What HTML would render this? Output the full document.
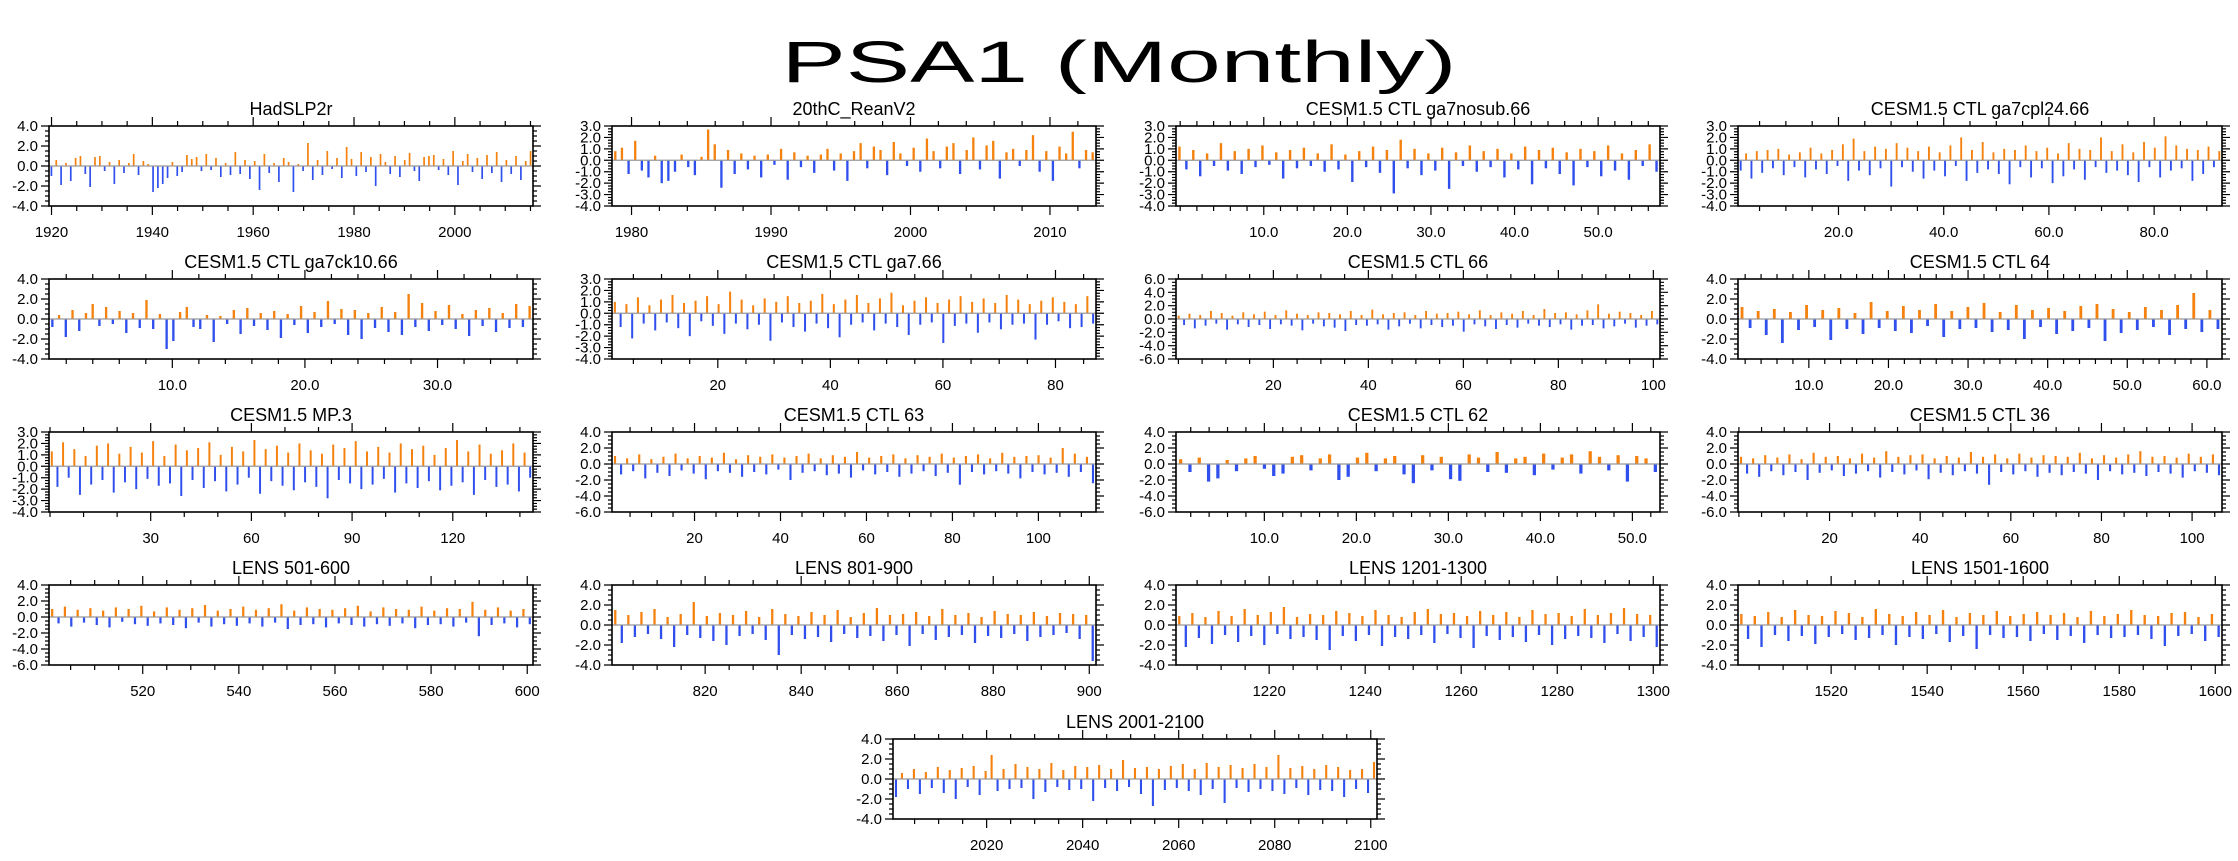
<!DOCTYPE html>
<html><head><meta charset="utf-8">
<style>
html,body{margin:0;padding:0;background:#fff;}
body{width:2238px;height:856px;overflow:hidden;font-family:"Liberation Sans",sans-serif;}
svg text{font-family:"Liberation Sans",sans-serif;fill:#000;}
</style></head>
<body>
<svg id="chart" width="2238" height="856" viewBox="0 0 2238 856" xmlns="http://www.w3.org/2000/svg">
<text x="1119" y="82" font-size="58" text-anchor="middle" textLength="675" lengthAdjust="spacingAndGlyphs">PSA1 (Monthly)</text>
</svg>
<script>
const hadslpValues=[-1.0,0.6,-1.9,0.3,-1.5,0.8,1.0,-0.8,-2.1,0.9,1.0,-0.5,0.4,-1.8,0.6,-0.7,0.3,1.2,-0.9,0.5,0.2,-2.6,-2.2,-1.8,-1.2,0.4,-1.0,-0.6,1.1,0.7,0.9,-0.5,1.2,-0.4,0.8,-1.1,0.3,-0.9,1.4,-0.8,0.6,-1.3,0.5,-2.4,1.2,-0.7,0.3,-1.6,0.8,0.4,-2.6,0.2,-0.5,2.3,-1.4,0.6,-0.9,1.5,-0.3,0.8,-1.2,1.9,0.7,-1.0,1.4,-0.6,0.9,-2.0,1.2,0.4,-0.8,1.0,-1.1,0.6,1.3,-0.5,-1.5,0.9,1.0,1.1,-0.4,0.7,-0.9,1.5,-1.9,0.5,1.2,-0.6,0.8,-1.3,1.1,-0.7,1.4,-1.6,0.6,-0.8,1.0,-1.4,0.5,1.5];
const reanValues=[0.8,1.1,-1.2,1.7,-0.9,-1.5,0.4,-2.0,-1.8,-1.0,0.5,-0.6,-1.3,0.3,2.7,1.4,-2.4,0.9,-1.2,0.6,-0.8,0.4,-1.5,0.5,-0.4,1.0,-1.7,0.7,-0.6,0.4,-1.1,0.5,1.0,-0.9,0.6,-1.8,0.8,1.5,-0.7,1.2,0.9,-1.3,1.6,0.6,-0.5,1.1,-1.0,1.9,0.8,-0.7,1.2,1.5,-1.2,0.9,2.0,-0.8,1.3,1.7,-1.6,0.7,1.0,-0.5,0.9,2.2,-1.0,0.8,-1.8,1.2,0.6,2.5,-0.7,0.9,0.7];
const nosubValues=[1.2,-0.8,0.9,-1.4,0.6,-0.5,1.5,-0.9,0.8,-1.2,1.0,-0.6,1.3,-0.4,0.7,-1.6,0.9,-0.7,1.1,-0.5,0.6,-1.0,1.4,-0.8,0.5,-1.9,0.8,-0.6,1.2,-1.1,0.9,-2.9,1.8,-0.7,1.0,-1.3,0.6,-0.9,1.1,-2.5,0.7,-0.5,1.3,-1.0,0.8,-0.6,1.0,-1.5,0.6,-0.8,1.2,-2.1,0.9,-0.7,1.1,-1.2,0.7,-2.2,1.0,-0.6,0.8,-1.4,1.3,-0.9,0.6,-1.7,0.9,-0.5,1.4,-1.0];
const cpl24Values=[-0.9,0.6,-1.6,0.8,-1.1,0.9,-0.7,1.0,-1.3,0.5,-0.6,0.7,-1.5,1.1,-0.8,0.6,-1.2,0.9,-0.5,1.4,-1.8,1.9,-0.9,0.8,-1.3,1.2,-0.7,1.0,-2.3,1.5,-0.6,1.1,-1.0,0.8,-1.6,1.2,-0.9,0.7,-1.4,1.3,-0.5,2.0,-1.8,0.9,-1.1,1.6,-0.8,0.7,-1.2,1.0,-2.1,0.9,-0.6,1.3,-1.5,0.8,-0.7,1.1,-2.0,0.6,-1.4,1.5,-0.8,1.0,-1.7,0.9,-0.6,2.0,-1.1,0.8,-0.9,1.4,-1.3,0.7,-1.9,1.6,-0.6,1.1,-1.5,2.1,-0.9,1.3,-0.7,1.0,-1.8,0.9,-1.2,1.2,-0.6,0.8];
const ck10Values=[-0.8,0.4,-1.8,0.9,-1.2,0.6,1.5,-0.7,1.2,-0.5,0.8,-1.4,0.6,-0.9,1.9,-1.0,0.5,-3.0,-2.2,0.7,1.2,-0.8,-1.0,0.4,-2.3,0.3,-0.5,0.9,-1.5,1.1,-0.7,0.6,-1.1,0.8,-1.9,0.5,-0.6,1.3,-1.4,0.7,-0.8,1.8,-0.5,1.0,-1.6,0.9,-2.0,0.6,-0.9,1.2,-1.3,0.7,-1.6,2.5,-0.8,1.6,-1.2,0.8,-0.6,1.4,-1.0,0.5,-1.7,0.9,-0.7,1.1,-1.3,0.6,-0.9,1.5,-0.8,1.3];
const ga7Values=[1.0,-1.2,0.8,-2.2,1.4,-0.9,0.7,-1.5,1.2,-0.8,1.6,-1.3,0.9,-2.0,1.1,-0.7,1.5,-1.1,0.8,-1.8,1.9,-0.9,1.2,-1.4,0.7,-1.0,1.3,-2.4,1.0,-0.8,1.5,-1.2,0.9,-1.6,1.1,-0.9,1.7,-1.3,0.8,-2.1,1.2,-1.0,1.6,-0.8,0.9,-1.5,1.3,-0.9,1.8,-1.2,0.7,-1.9,1.1,-1.0,1.4,-0.8,0.9,-2.6,1.2,-1.1,1.5,-0.9,1.0,-1.7,1.3,-0.8,0.9,-1.4,1.6,-1.0,1.2,-0.9,0.8,-2.3,1.1,-1.0,1.4,-0.7,1.0,-1.3,0.8,-1.2,1.5,-0.9];
const ctl66Values=[0.5,-0.9,0.8,-1.4,0.6,-1.0,1.2,-0.7,0.9,-1.6,0.5,-0.8,1.0,-1.2,0.7,-0.9,1.1,-1.5,0.6,-0.8,1.3,-1.0,0.8,-1.7,0.6,-0.7,1.0,-1.1,0.9,-1.3,0.7,-1.8,1.2,-0.9,0.6,-1.0,1.4,-0.8,0.7,-1.6,0.9,-1.1,1.0,-0.7,0.6,-1.4,1.2,-0.9,0.8,-1.2,0.9,-1.0,1.1,-1.9,0.7,-0.8,1.3,-1.1,0.6,-1.5,1.0,-0.9,0.8,-1.3,1.2,-0.7,0.6,-1.0,1.5,-1.2,0.9,-0.8,1.0,-1.6,0.7,-1.0,1.3,-0.9,2.2,-1.4,0.8,-1.1,1.1,-0.7,0.9,-1.3,0.6,-1.0,1.2,-0.8];
const ctl64Values=[1.2,-0.9,0.8,-1.6,1.0,-2.4,0.7,-1.1,1.4,-0.8,0.9,-2.1,1.1,-1.0,0.6,-1.5,1.7,-0.9,0.8,-1.2,1.3,-1.4,0.9,-0.7,1.5,-1.8,0.8,-1.0,1.2,-0.9,1.6,-1.3,0.7,-1.1,1.4,-2.0,0.9,-0.8,1.1,-1.5,0.8,-1.2,1.3,-0.9,1.5,-2.2,1.0,-1.4,0.7,-1.1,1.2,-0.8,0.9,-1.6,1.4,-1.0,2.6,-1.3,0.9,-1.0];
const mp3Values=[1.3,-1.8,2.1,-1.0,1.5,-2.5,0.9,-1.6,1.8,-1.2,2.0,-2.3,1.1,-1.4,1.7,-2.0,1.2,-1.1,2.2,-1.7,0.9,-1.5,1.9,-2.6,1.4,-1.2,1.6,-1.9,2.1,-1.3,1.0,-2.2,1.7,-1.6,1.3,-1.0,2.3,-2.4,1.5,-1.3,1.8,-1.7,1.2,-2.1,2.0,-1.4,1.4,-1.8,1.1,-2.8,1.9,-1.2,1.6,-1.5,2.2,-2.0,1.3,-1.6,1.7,-1.1,1.2,-2.3,2.0,-1.5,1.5,-1.9,1.8,-1.3,1.0,-2.1,1.6,-1.7,2.3,-1.4,1.3,-2.5,1.9,-1.2,1.1,-1.8,1.4,-1.6,2.0,-2.2,1.2,-1.0];
const ctl63Values=[1.0,-1.3,0.7,-0.9,1.2,-1.8,0.6,-1.1,0.9,-1.5,1.3,-0.8,0.7,-1.2,1.0,-1.9,0.8,-0.9,1.4,-1.1,0.6,-1.6,1.1,-1.0,0.9,-1.3,1.2,-0.7,0.8,-2.0,1.0,-1.1,1.3,-0.9,0.7,-1.4,1.1,-1.2,0.9,-1.7,1.5,-0.8,0.8,-1.3,1.0,-1.0,1.2,-1.6,0.7,-1.2,1.1,-0.9,0.9,-1.5,1.3,-1.1,0.8,-2.6,1.0,-1.0,1.2,-1.3,0.7,-0.9,1.4,-1.2,0.9,-1.8,1.0,-1.0,1.1,-1.3,0.8,-1.1,2.0,-1.6,1.3,-1.0,0.9,-2.4];
const ctl62Values=[0.6,-1.0,0.8,-2.2,-1.8,0.5,-0.9,0.7,1.0,-0.6,-1.5,-1.2,0.9,1.1,-0.8,0.7,1.2,-2.0,-1.6,0.8,1.4,-0.9,0.7,1.0,-1.3,-2.4,1.1,-0.8,0.9,-1.9,-2.1,1.2,0.8,-1.0,1.5,-1.1,0.7,0.9,-1.4,1.3,-0.7,0.8,1.2,-1.2,1.6,0.9,-0.8,1.1,-2.2,1.0,0.7,-1.0];
const ctl36Values=[0.9,-1.2,0.7,-1.6,1.1,-0.9,0.8,-1.4,1.2,-1.0,0.6,-2.0,1.4,-1.1,0.9,-0.8,1.0,-1.5,0.7,-1.2,1.3,-0.9,0.8,-1.7,1.6,-1.0,0.9,-1.3,1.1,-0.8,1.2,-1.9,0.7,-1.1,1.0,-1.4,0.8,-0.9,1.5,-1.2,0.9,-2.6,1.2,-1.0,0.7,-1.3,1.3,-0.9,0.8,-1.6,1.1,-1.1,1.0,-1.4,0.9,-1.0,1.4,-1.2,0.7,-2.0,1.1,-0.9,0.8,-1.3,1.2,-1.1,1.6,-1.5,0.9,-1.0,1.0,-1.2,0.8,-1.7,1.3,-0.9,0.9,-1.1,1.2,-1.4];
const lens501Values=[1.0,-0.8,1.3,-1.2,0.9,-0.7,1.1,-1.0,0.8,-1.3,1.2,-0.6,1.0,-0.9,1.4,-1.1,0.7,-0.8,1.2,-1.0,0.9,-1.4,1.1,-0.7,1.5,-1.2,0.8,-0.9,1.0,-1.1,1.3,-0.8,0.9,-1.2,1.1,-0.7,1.6,-1.5,0.8,-1.0,1.2,-0.9,1.0,-1.3,0.9,-0.8,1.1,-1.0,1.4,-1.2,0.7,-0.9,1.2,-1.1,1.0,-0.8,0.9,-1.4,1.3,-1.0,0.8,-0.9,1.1,-1.2,1.0,-0.7,1.9,-2.4,0.9,-1.0,1.2,-0.8,0.8,-1.3,1.0,-0.9];
const lens801Values=[1.5,-1.8,1.0,-1.2,1.3,-0.9,1.6,-1.4,0.8,-2.2,1.1,-1.0,2.3,-1.3,0.9,-1.6,1.2,-2.0,1.0,-1.1,1.4,-0.9,0.8,-1.5,1.6,-3.0,1.1,-1.0,0.9,-1.4,1.3,-1.2,1.0,-1.7,1.5,-0.9,0.8,-1.3,1.2,-1.1,1.7,-1.6,1.0,-1.0,1.1,-2.1,1.3,-0.9,0.9,-1.5,1.6,-1.2,1.0,-1.0,1.2,-1.8,0.8,-1.1,1.4,-1.3,1.1,-0.9,1.0,-1.6,1.3,-1.2,0.9,-1.0,1.2,-0.8,1.1,-1.4,1.0,-3.6];
const lens1201Values=[0.9,-2.2,1.2,-1.3,0.8,-1.9,1.4,-1.0,0.9,-1.7,1.6,-1.1,1.0,-2.0,1.3,-0.9,1.8,-1.4,0.8,-1.2,1.1,-1.5,1.0,-2.5,1.4,-1.1,1.2,-1.6,0.9,-1.0,1.5,-2.1,1.0,-1.2,0.8,-1.4,1.3,-1.0,1.6,-1.8,1.1,-0.9,1.2,-1.3,0.9,-2.3,1.4,-1.1,1.0,-1.5,1.3,-1.2,0.8,-1.7,1.5,-1.0,1.1,-2.0,1.2,-1.4,0.9,-1.1,1.6,-1.3,1.0,-1.8,1.2,-0.9,1.7,-1.6,1.1,-1.2,1.0,-2.2];
const lens1501Values=[1.1,-1.4,0.9,-2.2,1.3,-1.0,0.8,-1.6,1.5,-1.1,1.0,-1.9,0.9,-1.2,1.4,-0.9,1.2,-1.5,0.8,-1.3,1.6,-1.0,1.1,-2.0,0.9,-1.2,1.3,-1.4,1.0,-0.9,1.5,-1.7,0.8,-1.1,1.2,-2.4,1.0,-1.0,1.4,-1.3,0.9,-1.2,1.1,-1.6,1.3,-0.9,1.0,-1.5,1.2,-1.1,0.8,-1.8,1.4,-1.0,0.9,-1.3,1.1,-1.2,1.5,-1.0,1.0,-1.4,0.9,-2.1,1.2,-1.1,1.3,-0.9,0.8,-1.6,1.1,-1.2];
const lens2001Values=[-1.8,0.6,-1.0,1.0,-1.5,0.7,-0.9,1.2,-1.4,0.9,-2.0,1.1,-0.8,1.3,-1.6,0.8,2.4,-1.2,1.0,-1.0,1.5,-0.9,1.2,-2.0,1.0,-1.3,1.6,-0.8,0.9,-1.1,1.3,-1.0,1.2,-2.2,1.4,-0.9,1.0,-1.2,1.9,-0.8,1.1,-1.5,1.2,-2.7,1.0,-1.1,1.3,-0.9,1.5,-1.2,1.0,-1.6,1.6,-1.0,1.2,-2.4,1.4,-0.9,1.1,-1.3,1.5,-1.0,1.2,-1.2,2.4,-1.5,1.1,-0.9,1.3,-1.6,1.0,-1.1,1.4,-1.2,1.2,-1.8,0.9,-1.0,1.0,-1.4,1.7];

const titles=["HadSLP2r","20thC_ReanV2","CESM1.5 CTL ga7nosub.66","CESM1.5 CTL ga7cpl24.66","CESM1.5 CTL ga7ck10.66","CESM1.5 CTL ga7.66","CESM1.5 CTL 66","CESM1.5 CTL 64","CESM1.5 MP.3","CESM1.5 CTL 63","CESM1.5 CTL 62","CESM1.5 CTL 36","LENS 501-600","LENS 801-900","LENS 1201-1300","LENS 1501-1600","LENS 2001-2100"];
const xTickLabels=[["1920","1940","1960","1980","2000"],["1980","1990","2000","2010"],["10.0","20.0","30.0","40.0","50.0"],["20.0","40.0","60.0","80.0"],["10.0","20.0","30.0"],["20","40","60","80"],["20","40","60","80","100"],["10.0","20.0","30.0","40.0","50.0","60.0"],["30","60","90","120"],["20","40","60","80","100"],["10.0","20.0","30.0","40.0","50.0"],["20","40","60","80","100"],["520","540","560","580","600"],["820","840","860","880","900"],["1220","1240","1260","1280","1300"],["1520","1540","1560","1580","1600"],["2020","2040","2060","2080","2100"]];
const series=[hadslpValues,reanValues,nosubValues,cpl24Values,ck10Values,ga7Values,ctl66Values,ctl64Values,mp3Values,ctl63Values,ctl62Values,ctl36Values,lens501Values,lens801Values,lens1201Values,lens1501Values,lens2001Values];

const colL=[49,612,1176,1738], rowT=[126,279,432,585,739], PW=484, PH=80;
const cfg=[
 {x0:1919.5,x1:2015.5,y0:-4,y1:4,ys:2,ym:0.5,xm:5},
 {x0:1978.6,x1:2013.3,y0:-4,y1:3,ys:1,ym:0.25,xm:2},
 {x0:-0.5,x1:57.4,y0:-4,y1:3,ys:1,ym:0.25,xm:2},
 {x0:0.9,x1:92.9,y0:-4,y1:3,ys:1,ym:0.25,xm:5},
 {x0:0.7,x1:37.2,y0:-4,y1:4,ys:2,ym:0.5,xm:2},
 {x0:1.2,x1:87.2,y0:-4,y1:3,ys:1,ym:0.25,xm:5},
 {x0:-0.5,x1:101.4,y0:-6,y1:6,ys:2,ym:0.5,xm:5},
 {x0:1.1,x1:61.9,y0:-4,y1:4,ys:2,ym:0.5,xm:2},
 {x0:-0.3,x1:143.9,y0:-4,y1:3,ys:1,ym:0.25,xm:10},
 {x0:0.8,x1:113.4,y0:-6,y1:4,ys:2,ym:0.5,xm:5},
 {x0:0.4,x1:53.0,y0:-6,y1:4,ys:2,ym:0.5,xm:2},
 {x0:-0.2,x1:106.6,y0:-6,y1:4,ys:2,ym:0.5,xm:5},
 {x0:500.5,x1:601.2,y0:-6,y1:4,ys:2,ym:0.5,xm:5},
 {x0:800.6,x1:901.4,y0:-4,y1:4,ys:2,ym:0.5,xm:5},
 {x0:1200.6,x1:1301.4,y0:-4,y1:4,ys:2,ym:0.5,xm:5},
 {x0:1500.6,x1:1601.4,y0:-4,y1:4,ys:2,ym:0.5,xm:5},
 {x0:2000.5,x1:2101.3,y0:-4,y1:4,ys:2,ym:0.5,xm:5}
];
const NS="http://www.w3.org/2000/svg";
const svg=document.getElementById('chart');
function mk(t,a,p){const e=document.createElementNS(NS,t);for(const k in a)e.setAttribute(k,a[k]);(p||svg).appendChild(e);return e;}
cfg.forEach((c,pi)=>{
  const L=pi<16?colL[pi%4]:893, T=rowT[Math.floor(pi/4)];
  const g=mk('g',{});
  
  
  const sx=v=>L+(v-c.x0)/(c.x1-c.x0)*PW;
  const sy=v=>T+(c.y1-v)/(c.y1-c.y0)*PH;
  const t=mk('text',{x:L+PW/2,y:T-11,'font-size':18,'text-anchor':'middle'},g);t.textContent=titles[pi];
  
  
  const vals=series[pi], n=vals.length, bw=Math.max(1.2,PW/n*0.35);
  const bars=mk('g',{},g);
  
  
  vals.forEach((v,i)=>{
    const xc=sx(c.x0+(i+0.5)*(c.x1-c.x0)/n);
    const ya=sy(0), yb=sy(v);
    const r=mk('rect',{x:(xc-bw/2).toFixed(2),y:Math.min(ya,yb).toFixed(2),width:bw.toFixed(2),height:Math.abs(yb-ya).toFixed(2),fill:v>=0?'#f5820e':'#3050ee'},bars);
    
    
  });
  const z=mk('line',{x1:L,x2:L+PW,y1:sy(0),y2:sy(0),stroke:'#999','stroke-width':1.2},g);
  
  
  const box=mk('rect',{x:L,y:T,width:PW,height:PH,fill:'none',stroke:'#000','stroke-width':1.6},g);
  
  
  let d='';
  for(let v=c.y0;v<=c.y1+1e-6;v+=c.ym){const y=sy(v);const maj=Math.abs(v/c.ys-Math.round(v/c.ys))<1e-6;const l=maj?8:4;d+=`M${L},${y}h${-l}M${L+PW},${y}h${l}`;}
  for(let v=Math.ceil(c.x0/c.xm)*c.xm;v<=c.x1;v+=c.xm){const x=sx(v);const maj=xTickLabels[pi].some(s=>Math.abs(parseFloat(s)-v)<1e-6);const l=maj?9:5;d+=`M${x},${T+PH}v${l}M${x},${T}v${-l}`;}
  const tk=mk('path',{d:d,stroke:'#000','stroke-width':1.2,fill:'none'},g);
  
  
  for(let v=c.y0;v<=c.y1+1e-6;v+=c.ys){const tl=mk('text',{x:L-11,y:sy(v)+5,'font-size':15,'text-anchor':'end'},g);tl.textContent=v.toFixed(1);
    
    }
  xTickLabels[pi].forEach(s=>{const tl=mk('text',{x:sx(parseFloat(s)),y:T+PH+31,'font-size':15,'text-anchor':'middle'},g);tl.textContent=s;
    
    });
});
</script>
</body></html>
